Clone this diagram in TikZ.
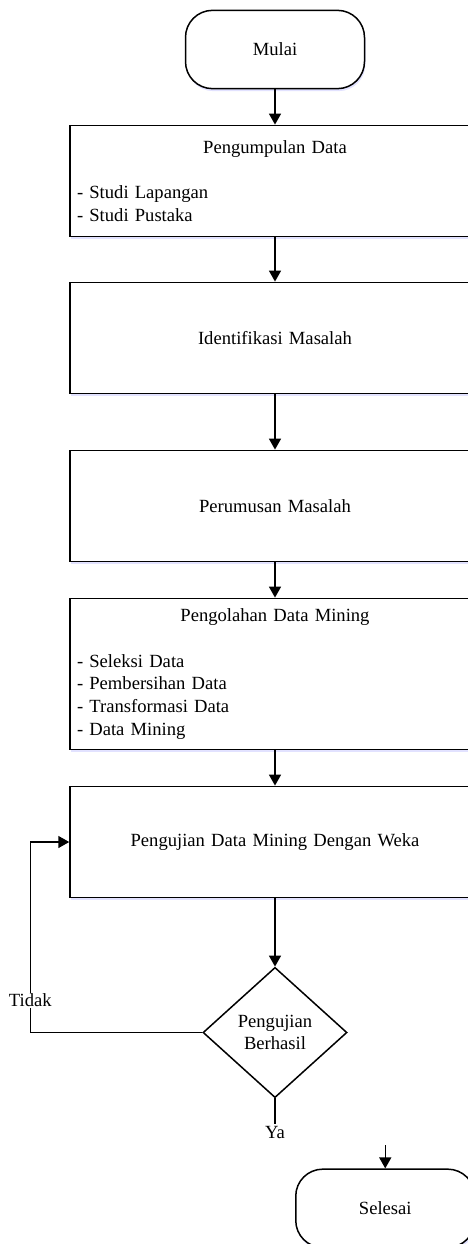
\documentclass[tikz,border=0pt]{standalone}
\usepackage{fontspec}
\setmainfont{Liberation Serif}
\usetikzlibrary{positioning,arrows.meta,shapes.geometric,shadows}

\begin{document}
\begin{tikzpicture}[
        x=1pt, y=1pt,
        node distance=35.2pt,
        font=\fontsize{18.6}{22.7}\selectfont,
        line width=1.5pt,
        bayang/.style={drop shadow={shadow xshift=1pt, shadow yshift=-2.5pt, fill=blue!25, opacity=0.45}},
        terminal/.style={draw, fill=white, bayang, rounded corners=27pt, minimum width=179pt, minimum height=78.3pt},
        proses/.style={draw, fill=white, bayang, text width=396pt, inner xsep=7pt, minimum height=111.3pt, align=center},
        daftar/.style={proses, align=left},
        keputusan/.style={draw, diamond, minimum width=144pt, minimum height=130.3pt, inner sep=1pt, align=center},
        panah/.style={-{Triangle[length=11pt,width=12pt]}}
    ]
        \useasboundingbox (0,0) rectangle (467,-1244);

        \node[terminal] (mulai) at (275,-49.5) {Mulai};
        \node[daftar, below=of mulai] (kumpul) {\makebox[\linewidth]{Pengumpulan Data}\\[22.7pt]- Studi Lapangan\\- Studi Pustaka};
        \node[proses, below=44.2pt of kumpul] (identifikasi) {Identifikasi Masalah};
        \node[proses, below=55.2pt of identifikasi] (rumusan) {Perumusan Masalah};
        \node[daftar, below=of rumusan, minimum height=151.3pt] (olah) {\makebox[\linewidth]{Pengolahan Data Mining}\\[22.7pt]- Seleksi Data\\- Pembersihan Data\\- Transformasi Data\\- Data Mining};
        \node[proses, below=of olah] (uji) {Pengujian Data Mining Dengan Weka};
        \node[keputusan, below=68.2pt of uji] (cek) {Pengujian\\Berhasil};
        \node[below=26pt of cek, inner sep=1pt] (ya) {Ya};
        \node[terminal, below right=70pt and 20pt of cek.south] (selesai) {Selesai};

        \coordinate[left=39pt of uji] (kiri);
        \coordinate[above=23pt of selesai] (masuk);

        \draw[panah] (mulai) -- (kumpul);
        \draw[panah] (kumpul) -- (identifikasi);
        \draw[panah] (identifikasi) -- (rumusan);
        \draw[panah] (rumusan) -- (olah);
        \draw[panah] (olah) -- (uji);
        \draw[panah] (uji) -- (cek);
        \draw (cek) -- (ya);
        \draw[panah] (cek) -| node[pos=0.585, fill=white, inner sep=1pt] {Tidak} (kiri) -- (uji);
        \draw[panah] (masuk) -- (selesai);
    \end{tikzpicture}
\end{document}
